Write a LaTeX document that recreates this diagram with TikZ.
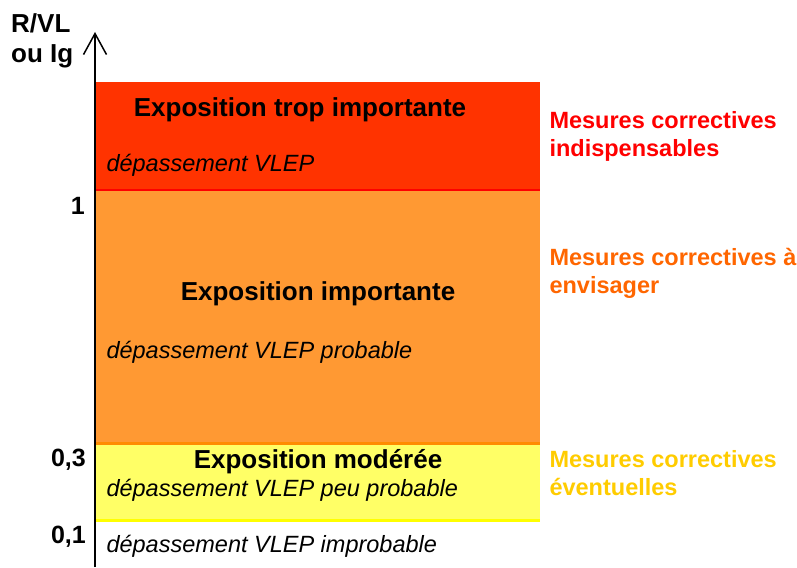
\documentclass[tikz,border=0pt]{standalone}
\usepackage{fontspec}
\setmainfont{Liberation Sans}
\usepackage{tikz}
\usetikzlibrary{arrows.meta}

\definecolor{zonered}{HTML}{FF3300}
\definecolor{zoneorange}{HTML}{FF9933}
\definecolor{zoneyellow}{HTML}{FFFF66}
\definecolor{edgeorange}{HTML}{FF8C00}
\definecolor{edgeyellow}{HTML}{FFFF00}
\definecolor{txtred}{HTML}{FF0000}
\definecolor{txtorange}{HTML}{FF6600}
\definecolor{txtyellow}{HTML}{FFCC00}

\tikzset{
    zonetitle/.style={font=\fontsize{26}{30}\selectfont\bfseries},
    zonenote/.style={anchor=west,font=\fontsize{23.5}{28}\selectfont\itshape},
    ticklabel/.style={anchor=east,inner sep=0pt,font=\fontsize{25}{29}\selectfont\bfseries},
    measure/.style={anchor=west,align=left,font=\fontsize{23.5}{28}\selectfont\bfseries}
}

\begin{document}
\begin{tikzpicture}[x=1pt,y=-1pt]
    \useasboundingbox (0,0) rectangle (797,567);
    % zones
    \fill[zonered] (96,82) rectangle (540,190);
    \fill[zoneorange] (96,190) rectangle (540,444);
    \fill[zoneyellow] (96,444) rectangle (540,520);
    \draw[txtred,line width=2] (96,190)--(540,190);
    \draw[edgeorange,line width=3] (96,443)--(540,443);
    \draw[edgeyellow,line width=3] (96,520)--(540,520);
    % axis
    \draw[line width=1.8,-{Straight Barb[length=21,width=23,line width=1.5]}] (95,567)--(95,32);
    \node[anchor=west,align=left,inner sep=0pt,font=\fontsize{26}{30}\selectfont\bfseries] (ylab) at (11,41) {R/VL\\ou Ig};
    \node[ticklabel] (t1) at (85,206) {1};
    \node[ticklabel] (t03) at (86,460) {0,3};
    \node[ticklabel] (t01) at (86,537) {0,1};
    % texts in zones
    \node[zonetitle] (ztrop) at (300,110) {Exposition trop importante};
    \node[zonenote] (ntrop) at (103,165) {dépassement VLEP};
    \node[zonetitle] (zimp) at (318,294) {Exposition importante};
    \node[zonenote] (nimp) at (103,352) {dépassement VLEP probable};
    \node[zonetitle] (zmod) at (318,462) {Exposition modérée};
    \node[zonenote] (nmod) at (103,490) {dépassement VLEP peu probable};
    \node[zonenote] (nimpr) at (103,546) {dépassement VLEP improbable};
    % measures
    \node[measure,txtred] (mred) at (546,136) {Mesures correctives\\indispensables};
    \node[measure,txtorange] (morange) at (546,273) {Mesures correctives à\\envisager};
    \node[measure,txtyellow] (myellow) at (546,473) {Mesures correctives\\éventuelles};
\end{tikzpicture}
\end{document}
